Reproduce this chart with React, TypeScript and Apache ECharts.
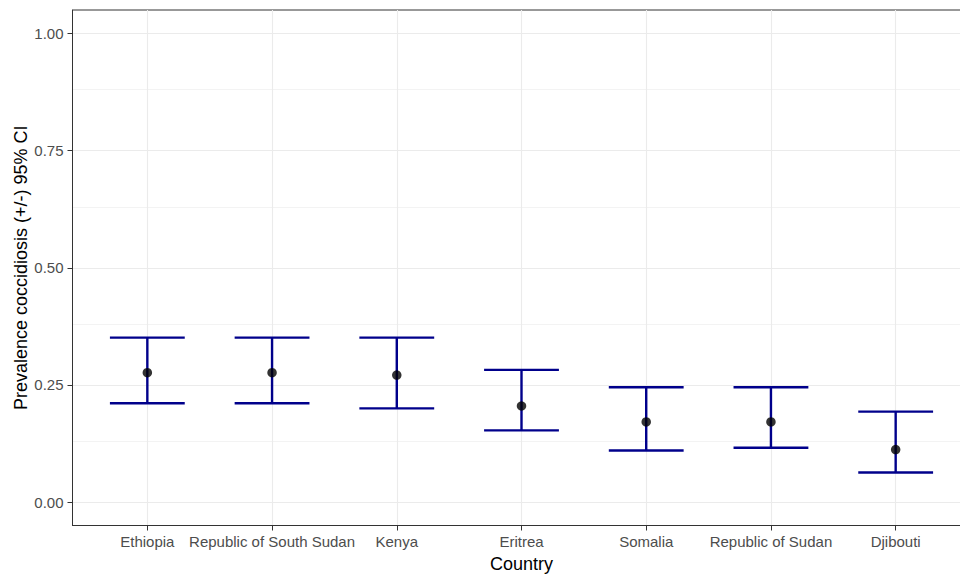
import React, { useEffect, useRef } from "react";
import * as echarts from "echarts";

const countries = [
  "Ethiopia",
  "Republic of South Sudan",
  "Kenya",
  "Eritrea",
  "Somalia",
  "Republic of Sudan",
  "Djibouti",
];
const prevalence = [0.276, 0.276, 0.271, 0.205, 0.171, 0.171, 0.112];
const lowerCI = [0.211, 0.211, 0.2, 0.153, 0.11, 0.116, 0.063];
const upperCI = [0.351, 0.351, 0.351, 0.282, 0.245, 0.245, 0.193];
const yTicks = [0, 0.25, 0.5, 0.75, 1.0];
const yMinorTicks = [0.125, 0.375, 0.625, 0.875];

const FONT = "Liberation Sans, Arial, sans-serif";

export default function App() {
  const ref = useRef<HTMLDivElement>(null);

  useEffect(() => {
    if (!ref.current) return;
    const chart = echarts.init(ref.current, null, { renderer: "svg" });
    const xIdx = countries.map((_, i) => i);
    const capHalf = 0.3;

    const gridLines: any[] = [
      ...yTicks.map((v) => ({ yAxis: v, lineStyle: { width: 1.1 } })),
      ...yMinorTicks.map((v) => ({ yAxis: v, lineStyle: { width: 0.6 } })),
      ...xIdx.map((v) => ({ xAxis: v, lineStyle: { width: 1.1 } })),
    ];

    chart.setOption({
      animation: false,
      backgroundColor: "#FFFFFF",
      grid: {
        left: 72.5,
        right: -10.5,
        top: 10,
        bottom: 49.5,
        outerBoundsMode: "none",
        containLabel: false,
        show: true,
        borderColor: "#333333",
        borderWidth: 1,
        backgroundColor: "#FFFFFF",
      },
      xAxis: {
        type: "value",
        min: -0.6,
        max: 6.6,
        name: "Country",
        nameLocation: "middle",
        nameGap: 29,
        nameMoveOverlap: false,
        nameTextStyle: { color: "#000000", fontSize: 18, fontFamily: FONT },
        splitLine: { show: false },
        axisLine: { show: true, onZero: false, lineStyle: { color: "#333333", width: 1 } },
        axisTick: {
          show: true,
          customValues: xIdx,
          length: 5,
          lineStyle: { color: "#333333", width: 1 },
        },
        axisLabel: {
          customValues: xIdx,
          formatter: (v: number) => countries[Math.round(v)] ?? "",
          color: "#4D4D4D",
          fontSize: 15,
          fontFamily: FONT,
          margin: 8,
        },
      },
      yAxis: {
        type: "value",
        min: -0.05,
        max: 1.05,
        name: "Prevalence coccidiosis (+/-) 95% CI",
        nameLocation: "middle",
        nameGap: 43,
        nameMoveOverlap: false,
        nameTextStyle: { color: "#000000", fontSize: 18, fontFamily: FONT },
        splitLine: { show: false },
        axisLine: { show: true, onZero: false, lineStyle: { color: "#333333", width: 1 } },
        axisTick: {
          show: true,
          customValues: yTicks,
          length: 5,
          lineStyle: { color: "#333333", width: 1 },
        },
        axisLabel: {
          customValues: yTicks,
          formatter: (v: number) => v.toFixed(2),
          color: "#4D4D4D",
          fontSize: 15,
          fontFamily: FONT,
          margin: 9,
        },
      },
      series: [
        {
          type: "line",
          data: [],
          z: 0,
          silent: true,
          markLine: {
            silent: true,
            z: 0,
            symbol: ["none", "none"],
            label: { show: false },
            lineStyle: { color: "#EBEBEB", type: "solid" },
            emphasis: { disabled: true },
            data: gridLines,
          },
        },
        {
          type: "custom",
          z: 3,
          silent: true,
          data: xIdx.map((i) => [i, lowerCI[i], upperCI[i]]),
          renderItem: (params: any, api: any) => {
            const x = api.value(0);
            const lo = api.value(1);
            const hi = api.value(2);
            const pLo = api.coord([x, lo]);
            const pHi = api.coord([x, hi]);
            const pLoL = api.coord([x - capHalf, lo]);
            const pLoR = api.coord([x + capHalf, lo]);
            const pHiL = api.coord([x - capHalf, hi]);
            const pHiR = api.coord([x + capHalf, hi]);
            const style = { stroke: "#00008B", lineWidth: 2.4 };
            return {
              type: "group",
              children: [
                { type: "line", shape: { x1: pLo[0], y1: pLo[1], x2: pHi[0], y2: pHi[1] }, style },
                { type: "line", shape: { x1: pLoL[0], y1: pLoL[1], x2: pLoR[0], y2: pLoR[1] }, style },
                { type: "line", shape: { x1: pHiL[0], y1: pHiL[1], x2: pHiR[0], y2: pHiR[1] }, style },
              ],
            };
          },
        },
        {
          type: "scatter",
          z: 4,
          silent: true,
          symbol: "circle",
          symbolSize: 9.5,
          itemStyle: { color: "#000000" },
          data: xIdx.map((i) => [i, prevalence[i]]),
        },
      ],
    });

    return () => chart.dispose();
  }, []);

  return (
    <div
      ref={ref}
      style={{ position: "fixed", left: 0, top: 0, width: 960, height: 575 }}
    />
  );
}
